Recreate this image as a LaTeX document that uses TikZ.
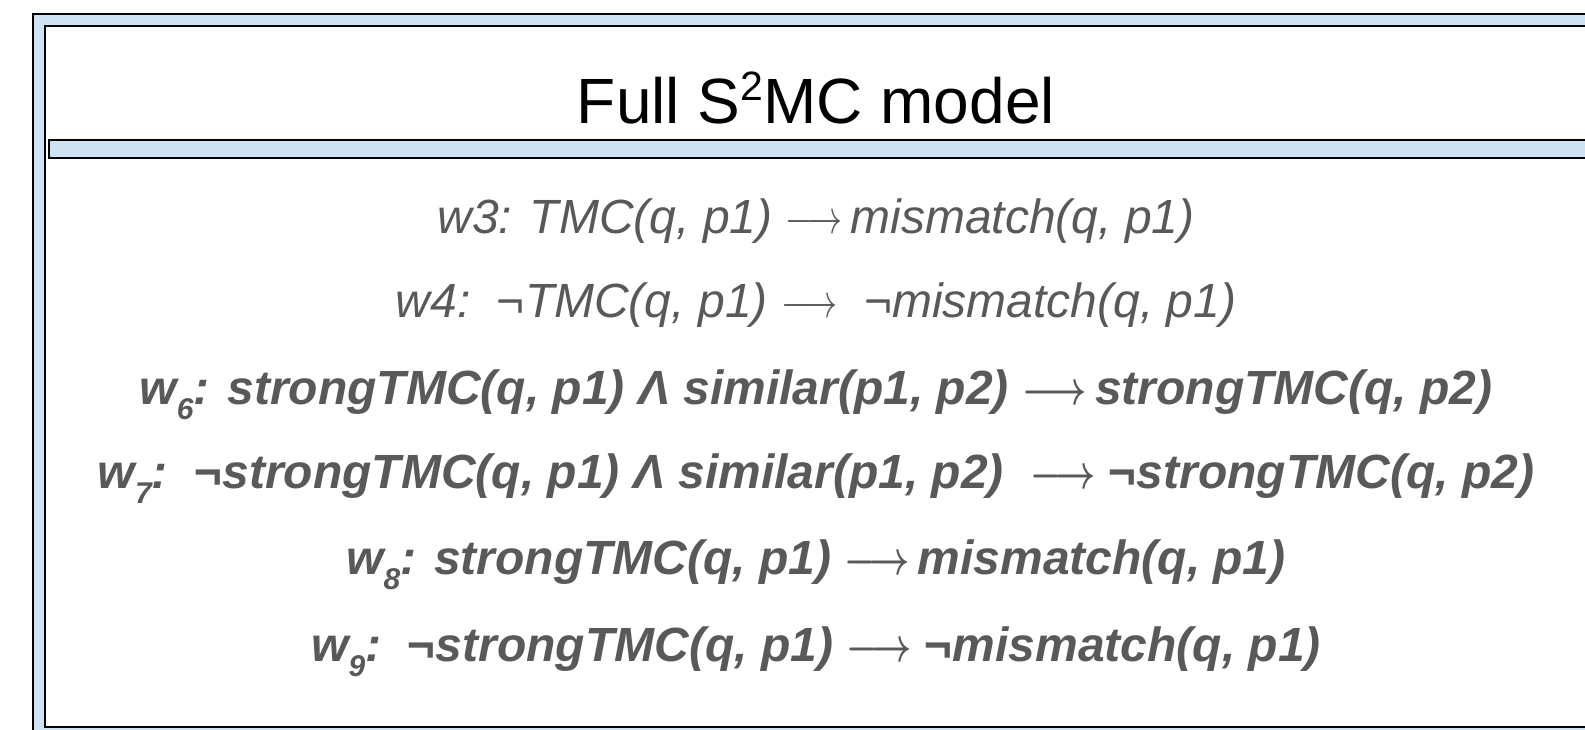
\RequirePackage{fix-cm}
\documentclass[tikz,border=0pt]{standalone}
\usepackage{fontspec}
\setmainfont{Liberation Sans}
\usepackage{tikz}
\definecolor{frameblue}{HTML}{CFE2F3}
\definecolor{textgray}{HTML}{595959}
\newcommand{\rarr}{\scalebox{0.73}[1]{$\longrightarrow$}}
\newcommand{\wsub}[1]{\raisebox{-0.32em}{\fontsize{30}{30}\selectfont #1}}

\begin{document}
\begin{tikzpicture}[x=1pt, y=-1pt]
    % Define styles
    \tikzstyle{panel} = [draw=black, line width=1.6pt, fill=frameblue]
    \tikzstyle{heading} = [inner sep=0pt, anchor=base, font=\fontsize{64}{64}\selectfont]
    \tikzstyle{plainrule} = [inner sep=0pt, anchor=base, text=textgray, font=\fontsize{48}{48}\selectfont\itshape]
    \tikzstyle{boldrule} = [plainrule, font=\fontsize{48}{48}\selectfont\bfseries\itshape\boldmath]

    % Canvas
    \useasboundingbox (0,0) rectangle (1585,729);
    \clip (0,0) rectangle (1585,729);

    % Panels
    \path [panel] (33,14) rectangle (1620,760);
    \path [panel, fill=white] (45,26) rectangle (1620,727);
    \path [panel] (49,140) rectangle (1620,158);

    % Nodes
    \node [heading] (Title) at (816,123) {Full S\raisebox{23pt}{\fontsize{41}{41}\selectfont 2}MC model};
    \node [plainrule] (Rule_W3) at (816,233) {w3: TMC(q, p1) \rarr\,mismatch(q, p1)};
    \node [plainrule] (Rule_W4) at (816,317) {w4:\ \ ¬TMC(q, p1) \rarr\ \ ¬mismatch(q, p1)};
    \node [boldrule] (Rule_W6) at (816,404) {w\wsub{6}: strongTMC(q, p1) Λ similar(p1, p2)\ \rarr\,strongTMC(q, p2)};
    \node [boldrule] (Rule_W7) at (816,488) {w\wsub{7}:\ \ ¬strongTMC(q, p1) Λ similar(p1, p2)\ \ \rarr\ ¬strongTMC(q, p2)};
    \node [boldrule] (Rule_W8) at (816,574) {w\wsub{8}: strongTMC(q, p1) \rarr\,mismatch(q, p1)};
    \node [boldrule] (Rule_W9) at (816,661) {w\wsub{9}:\ \ ¬strongTMC(q, p1) \rarr\ ¬mismatch(q, p1)};

\end{tikzpicture}
\end{document}
